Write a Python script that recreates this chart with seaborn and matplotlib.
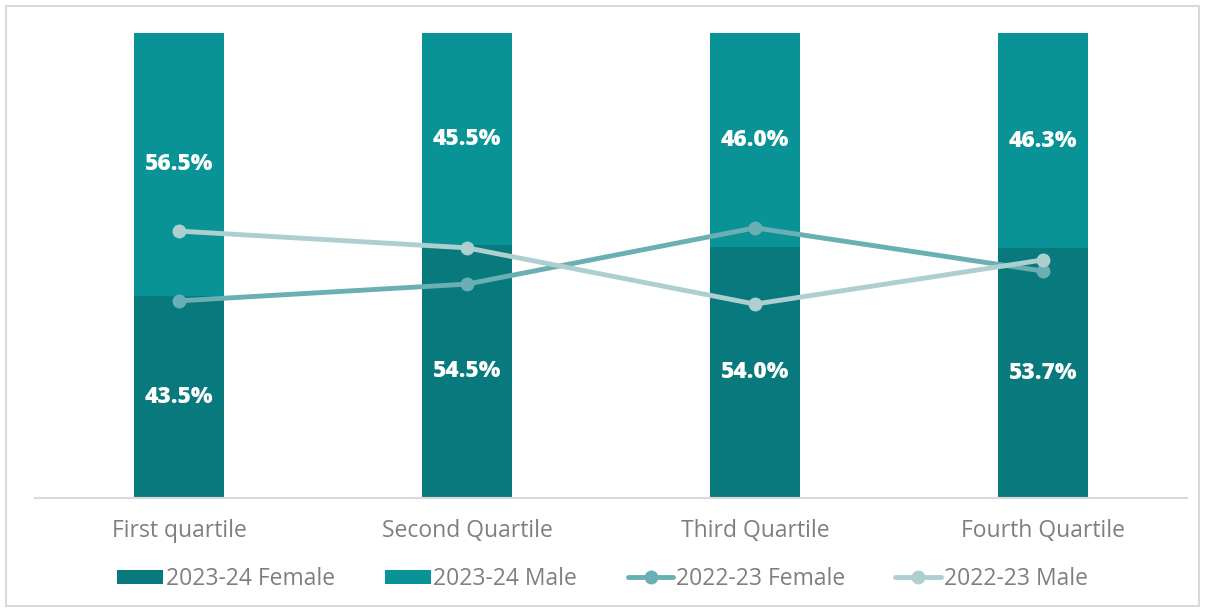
import matplotlib
matplotlib.use("Agg")
import matplotlib.pyplot as plt
import seaborn as sns
import numpy as np
from matplotlib.patches import Rectangle
from matplotlib.lines import Line2D
from matplotlib.patches import Patch

categories = ["First quartile", "Second Quartile", "Third Quartile", "Fourth Quartile"]
female_2324 = [43.5, 54.5, 54.0, 53.7]
male_2324 = [56.5, 45.5, 46.0, 46.3]
female_2223 = [42.4, 46.0, 58.1, 48.8]
male_2223 = [57.4, 53.8, 41.7, 51.2]

c_f = "#087a7d"
c_m = "#0a9396"
c_lf = "#6aafb3"
c_lm = "#aecfd0"
txt = "#7f7f7f"

sns.set_theme(style="white")
plt.rcParams["font.family"] = ["Open Sans", "DejaVu Sans"]

fig = plt.figure(figsize=(12.05, 6.12), dpi=100)
ax = fig.add_axes([35/1205, 1-498/612, (1187-35)/1205, (498-33)/612])

sns.barplot(x=categories, y=female_2324, color=c_f, width=0.3125, ax=ax,
            saturation=1, linewidth=0)
sns.barplot(x=categories, y=male_2324, bottom=female_2324, color=c_m, width=0.3125,
            ax=ax, saturation=1, linewidth=0)

xs = np.arange(len(categories))
sns.lineplot(x=xs, y=female_2223, color=c_lf, lw=3.5, marker="o", markersize=10,
             markeredgewidth=0, ax=ax)
sns.lineplot(x=xs, y=male_2223, color=c_lm, lw=3.5, marker="o", markersize=10,
             markeredgewidth=0, ax=ax)

for i in range(len(categories)):
    ax.text(i, female_2324[i] / 2, f"{female_2324[i]:.1f}%", ha="center", va="center",
            color="white", fontsize=16.5, fontweight="heavy")
    ax.text(i, female_2324[i] + male_2324[i] / 2, f"{male_2324[i]:.1f}%", ha="center",
            va="center", color="white", fontsize=16.5, fontweight="heavy")

ax.set_xlim(-0.5, 3.5)
ax.set_ylim(0, 100)
ax.set_yticks([])
ax.set_xlabel("")
ax.set_ylabel("")
for s in ["top", "left", "right"]:
    ax.spines[s].set_visible(False)
ax.spines["bottom"].set_color("#d9d9d9")
ax.spines["bottom"].set_linewidth(1.5)
ax.tick_params(axis="x", colors=txt, labelsize=16.5, length=0, pad=15)

handles = [
    Patch(facecolor=c_f, edgecolor="none"),
    Patch(facecolor=c_m, edgecolor="none"),
    Line2D([0], [0], color=c_lf, lw=3.5, marker="o", markersize=10, markeredgewidth=0),
    Line2D([0], [0], color=c_lm, lw=3.5, marker="o", markersize=10, markeredgewidth=0),
]
labels = ["2023-24 Female", "2023-24 Male", "2022-23 Female", "2022-23 Male"]
leg = fig.legend(handles, labels, loc="center", bbox_to_anchor=(0.5, 1-579/612), ncol=4,
                 frameon=False, fontsize=16.5, handlelength=2.0, handleheight=0.55,
                 handletextpad=0.1, columnspacing=2.2)
for t in leg.get_texts():
    t.set_color(txt)

fig.patches.append(Rectangle((6/1205, 6/612), 1193/1205, 600/612, transform=fig.transFigure,
                             fill=False, edgecolor="#d9d9d9", lw=1.5))

fig.savefig("out.png", dpi=100)
